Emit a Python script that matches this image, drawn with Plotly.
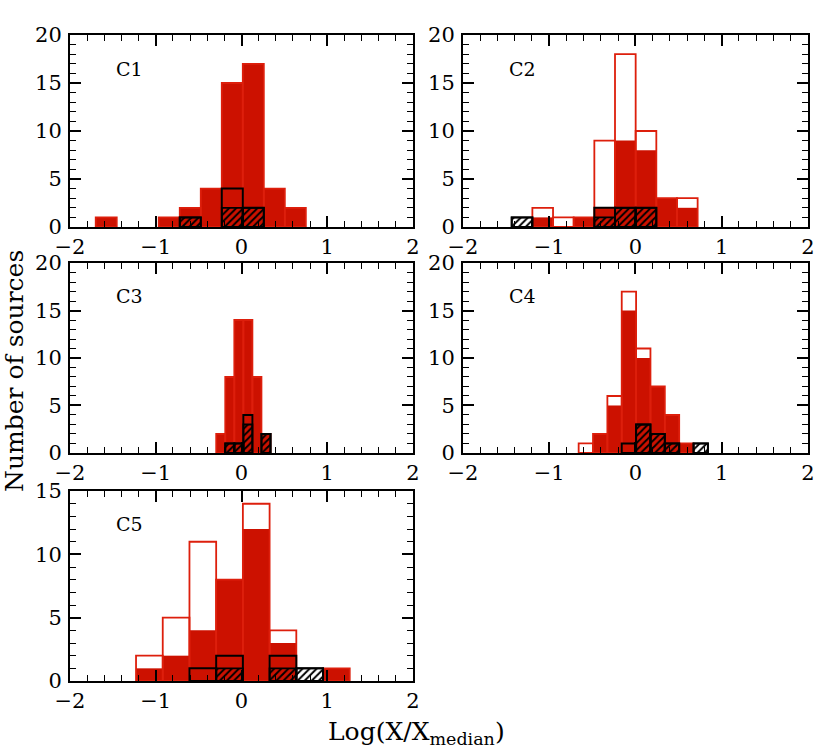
import numpy as np
import plotly.graph_objects as go

# histogram data: left edge of first bin, bin width, counts per bin
# total = open red, filled = solid red, black = open black, hatched = hatched black
c1_start, c1_width = -1.70, 0.245
c1_total = [1, 0, 0, 1, 2, 4, 15, 17, 4, 2]
c1_filled = [1, 0, 0, 1, 2, 4, 15, 17, 4, 2]
c1_black = [0, 0, 0, 0, 1, 0, 4, 2, 0, 0]
c1_hatched = [0, 0, 0, 0, 1, 0, 2, 2, 0, 0]

c2_start, c2_width = -1.435, 0.2395
c2_total = [0, 2, 1, 1, 9, 18, 10, 3, 3]
c2_filled = [0, 1, 0, 1, 2, 9, 8, 3, 2]
c2_black = [1, 0, 0, 0, 2, 2, 2, 0, 0]
c2_hatched = [1, 0, 0, 0, 1, 2, 2, 0, 0]

c3_start, c3_width = -0.295, 0.1055
c3_total = [2, 8, 14, 14, 8, 2]
c3_filled = [2, 8, 14, 14, 8, 2]
c3_black = [0, 1, 1, 4, 0, 2]
c3_hatched = [0, 1, 1, 3, 0, 2]

c4_start, c4_width = -0.659, 0.1665
c4_total = [1, 2, 6, 17, 11, 7, 4, 1, 0]
c4_filled = [0, 2, 5, 15, 10, 7, 4, 1, 0]
c4_black = [0, 0, 0, 1, 3, 2, 1, 0, 1]
c4_hatched = [0, 0, 0, 0, 3, 2, 1, 0, 1]

c5_start, c5_width = -1.23, 0.3115
c5_total = [2, 5, 11, 8, 14, 4, 0, 1]
c5_filled = [1, 2, 4, 8, 12, 3, 0, 1]
c5_black = [0, 0, 1, 2, 0, 2, 1, 0]
c5_hatched = [0, 0, 0, 1, 0, 1, 1, 0]

panels = [
    ("C1", c1_start, c1_width, c1_total, c1_filled, c1_black, c1_hatched, 20),
    ("C2", c2_start, c2_width, c2_total, c2_filled, c2_black, c2_hatched, 20),
    ("C3", c3_start, c3_width, c3_total, c3_filled, c3_black, c3_hatched, 20),
    ("C4", c4_start, c4_width, c4_total, c4_filled, c4_black, c4_hatched, 20),
    ("C5", c5_start, c5_width, c5_total, c5_filled, c5_black, c5_hatched, 15),
]

RED = "#cc1100"
RED_LINE = "#dd1f0c"
CLEAR = "rgba(0,0,0,0)"
FONT = "DejaVu Serif"

# panel domains (paper fractions)
xdom = [[0, 0.4648], [0.5325, 1], [0, 0.4648], [0.5325, 1], [0, 0.4648]]
ydom = [[0.7028, 1], [0.7028, 1], [0.353, 0.647], [0.353, 0.647], [0, 0.294]]


def nz(vals):
    return [v if v > 0 else None for v in vals]


fig = go.Figure()
layout = {}

for i, (name, start, width, total, filled, black, hatched, ymax) in enumerate(panels):
    n = len(total)
    centers = start + width * (np.arange(n) + 0.5)
    xa = "x" if i == 0 else f"x{i+1}"
    ya = "y" if i == 0 else f"y{i+1}"
    common = dict(x=centers, width=width, xaxis=xa, yaxis=ya, showlegend=False,
                  hoverinfo="skip")

    fig.add_trace(go.Bar(y=nz(filled), marker=dict(color=RED, line=dict(width=0)), **common))
    fig.add_trace(go.Bar(y=nz(total),
                         marker=dict(color=CLEAR, line=dict(color=RED_LINE, width=1.8)),
                         **common))
    fig.add_trace(go.Bar(y=nz(hatched),
                         marker=dict(color=CLEAR, line=dict(color="black", width=1.8),
                                     pattern=dict(shape="/", fgcolor="black", bgcolor=CLEAR,
                                                  size=5, solidity=0.4, fillmode="replace")),
                         **common))
    fig.add_trace(go.Bar(y=nz(black),
                         marker=dict(color=CLEAR, line=dict(color="black", width=2)),
                         **common))

    key = "" if i == 0 else str(i + 1)
    axis_common = dict(showline=True, linecolor="black", linewidth=2, mirror="allticks",
                       ticks="inside", ticklen=11, tickwidth=1.5, tickcolor="black",
                       showgrid=False, zeroline=False, automargin=False,
                       tickfont=dict(family=FONT, size=21, color="black"))
    layout["xaxis" + key] = dict(domain=xdom[i], range=[-2, 2], dtick=1, tick0=0,
                                 anchor=ya,
                                 minor=dict(dtick=0.2, ticks="inside", ticklen=6,
                                            tickwidth=1.2, tickcolor="black"),
                                 **axis_common)
    layout["yaxis" + key] = dict(domain=ydom[i], range=[0, ymax], dtick=5, tick0=0,
                                 anchor=xa, ticklabelstandoff=2,
                                 minor=dict(dtick=1, ticks="inside", ticklen=6,
                                            tickwidth=1.2, tickcolor="black"),
                                 **axis_common)
    fig.add_annotation(text=name, xref=f"{xa} domain", yref=f"{ya} domain",
                       x=0.128, y=0.825, xanchor="left", yanchor="middle",
                       showarrow=False, font=dict(family=FONT, size=19, color="black"))

fig.add_annotation(text="Log(X/X<sub>median</sub>)", xref="paper", yref="paper",
                   x=0.469, y=-0.08, xanchor="center", yanchor="middle", showarrow=False,
                   font=dict(family=FONT, size=25, color="black"))
fig.add_annotation(text="Number of sources", xref="paper", yref="paper",
                   x=-0.0745, y=0.48, xanchor="center", yanchor="middle", textangle=-90,
                   showarrow=False, font=dict(family=FONT, size=25, color="black"))

fig.update_layout(
    width=830, height=756,
    margin=dict(l=70, r=22, t=35, b=75),
    barmode="overlay",
    plot_bgcolor="white", paper_bgcolor="white",
    **layout,
)

# drop the default page margin so the figure sits at the window's corner
fig.write_html("out.html", config={"displayModeBar": False},
               post_script="document.body.style.margin='0';")
